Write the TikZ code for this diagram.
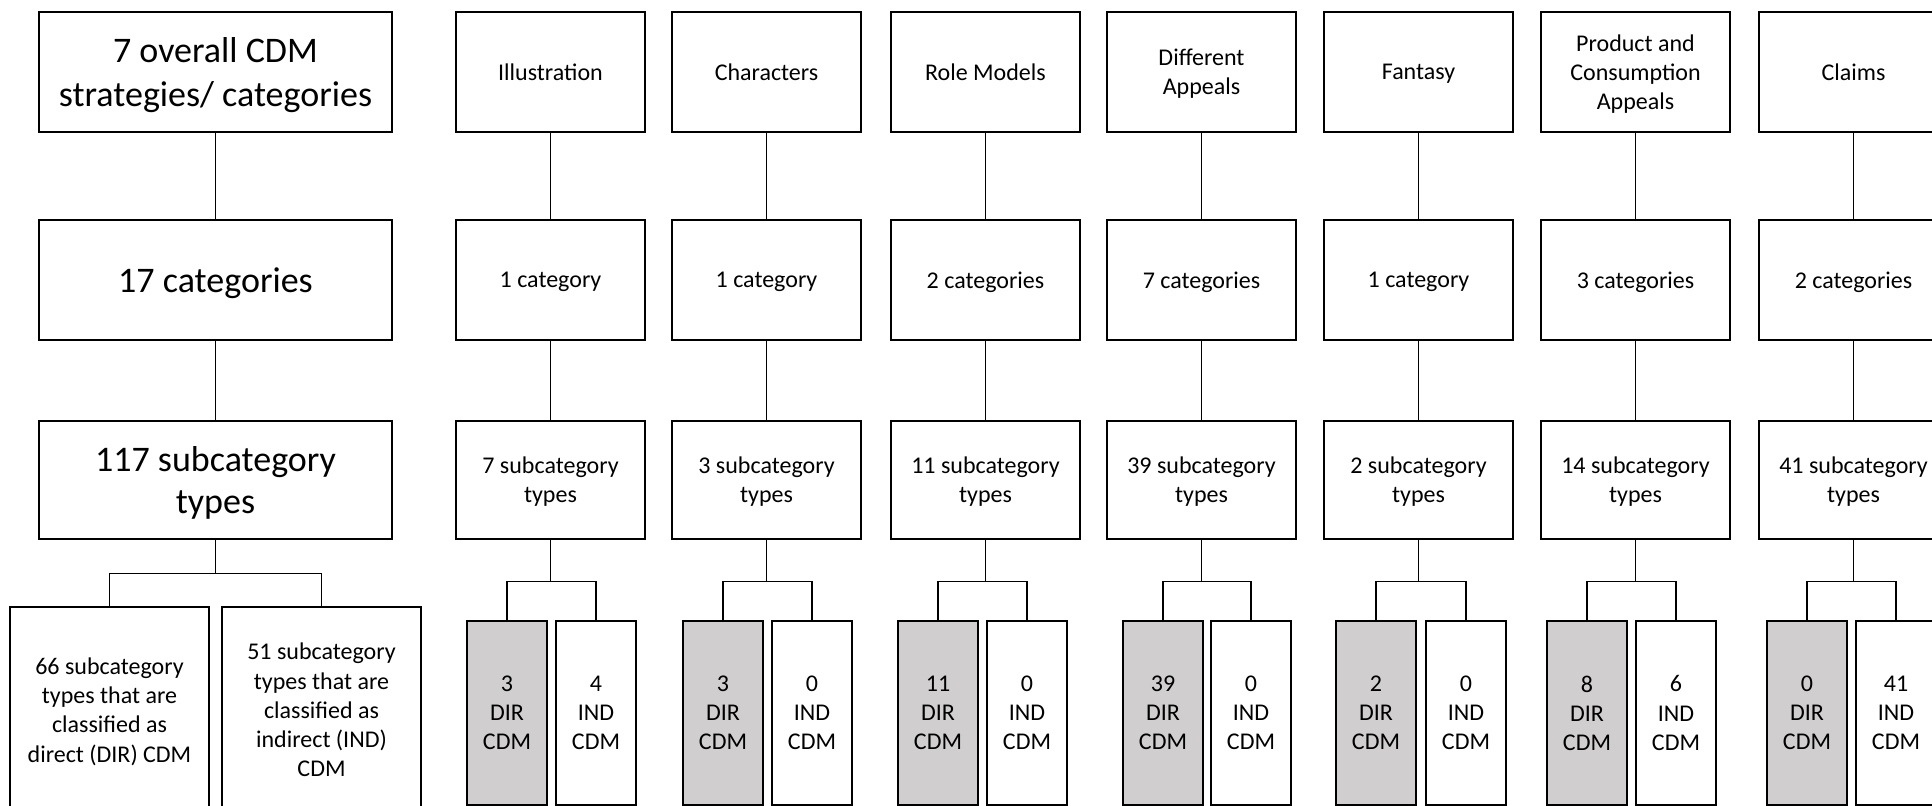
\documentclass[tikz,border=0pt]{standalone}
\usepackage{fontspec}
\setmainfont{Carlito}
\definecolor{dirgray}{HTML}{D0CECE}
\begin{document}
\begin{tikzpicture}[x=0.5pt,y=-0.5pt,
  box/.style={draw=black, line width=0.65pt, inner sep=0pt, align=center, text depth=0pt, font=\fontsize{12}{14.6}\selectfont},
  bigbox/.style={box, minimum width=176.5pt, minimum height=60pt, font=\fontsize{18}{22}\selectfont},
  colbox/.style={box, minimum width=94.5pt, minimum height=60pt},
  subbox/.style={box, minimum width=94.5pt, minimum height=59pt},
  leaf/.style={box, minimum width=40pt, minimum height=92pt},
  dirleaf/.style={leaf, fill=dirgray},
  lowbox/.style={box, minimum width=99.5pt, minimum height=103pt},
  conn/.style={draw=black, line width=0.65pt}]
\useasboundingbox (0,0) rectangle (1932,806);
\fill[white] (0,0) rectangle (1932,806);

% left summary column
\node[bigbox] (L1) at (215.5,72) {7 overall CDM\\strategies/ categories};
\node[bigbox] (L2) at (215.5,280) {17 categories};
\node[bigbox, minimum height=59pt, font=\fontsize{18}{21}\selectfont] (L3) at (215.5,480) {117 subcategory\\types};
\node[lowbox] (LD) at (109.5,710) {66 subcategory\\types that are\\classified as\\direct (DIR) CDM};
\node[lowbox] (LI) at (321.5,710) {51 subcategory\\types that are\\classified as\\indirect (IND)\\CDM};
\draw[conn] (L1) -- (L2);
\draw[conn] (L2) -- (L3);
\draw[conn] (L3.south) -- ++(0,34) -| (LD.north);
\draw[conn] (L3.south) -- ++(0,34) -| (LI.north);

% strategy columns
\foreach \i/\lx/\dx/\ix/\t/\c/\s/\dn/\inn in {
  1/456/11/100/{Illustration}/{1 category}/7/3/4,
  2/672/11/100/{Characters}/{1 category}/3/3/0,
  3/891/7/96/{Role Models}/{2 categories}/11/11/0,
  4/1107/16/104/{Different\\Appeals}/{7 categories}/39/39/0,
  5/1324/12/102/{Fantasy}/{1 category}/2/2/0,
  6/1541/6/95/{Product and\\Consumption\\Appeals}/{3 categories}/14/8/6,
  7/1759/8/97/{Claims}/{2 categories}/41/0/41}{
  \node[colbox] (T\i) at (\lx+94.5,72) {\t};
  \node[colbox] (C\i) at (\lx+94.5,280) {\c};
  \node[subbox] (S\i) at (\lx+94.5,480) {\s{} subcategory\\types};
  \node[dirleaf] (D\i) at (\lx+\dx+40,713) {\dn\\DIR\\CDM};
  \node[leaf] (I\i) at (\lx+\ix+40,713) {\inn\\IND\\CDM};
  \draw[conn] (T\i) -- (C\i);
  \draw[conn] (C\i) -- (S\i);
  \draw[conn] (S\i.south) -- ++(0,42) -| (D\i.north);
  \draw[conn] (S\i.south) -- ++(0,42) -| (I\i.north);
}
\end{tikzpicture}
\end{document}
